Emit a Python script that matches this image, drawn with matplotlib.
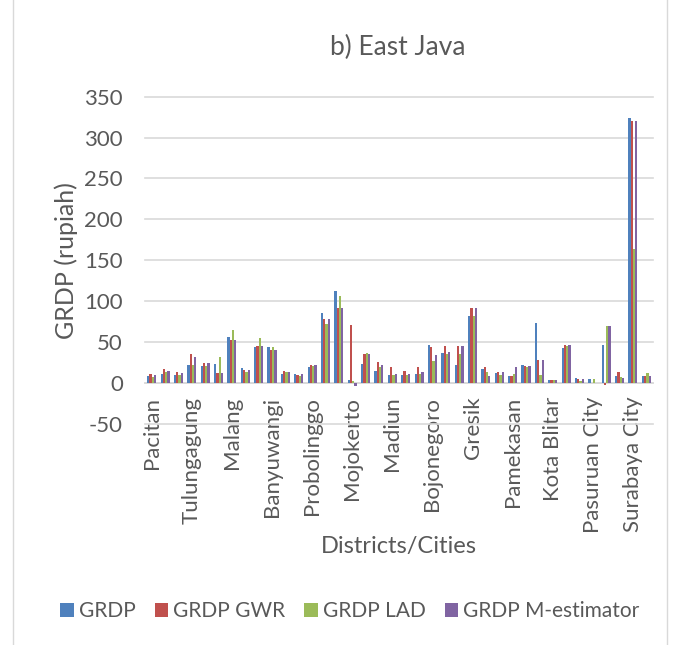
import numpy as np
import matplotlib
matplotlib.use("Agg")
import matplotlib.pyplot as plt
from matplotlib.patches import Rectangle

districts = ["Pacitan", "Ponorogo", "Trenggalek", "Tulungagung", "Blitar", "Kediri",
             "Malang", "Lumajang", "Jember", "Banyuwangi", "Bondowoso", "Situbondo",
             "Probolinggo", "Pasuruan", "Sidoarjo", "Mojokerto", "Jombang", "Nganjuk",
             "Madiun", "Magetan", "Ngawi", "Bojonegoro", "Tuban", "Lamongan", "Gresik",
             "Bangkalan", "Sampang", "Pamekasan", "Sumenep", "Kota Kediri", "Kota Blitar",
             "Kota Malang", "Kota Probolinggo", "Pasuruan City", "Kota Mojokerto",
             "Kota Madiun", "Surabaya City", "Kota Batu"]

grdp = [8.3, 10.7, 9.5, 21.9, 20.7, 23.5, 55.4, 17.8, 44.2, 44.2, 10.7, 10.7, 19.0,
        85.0, 112.5, 3.3, 22.7, 14.5, 9.5, 9.5, 10.3, 46.5, 36.8, 21.7, 81.5, 16.5,
        11.6, 8.7, 21.5, 73.3, 2.9, 42.1, 5.6, 4.3, 46.5, 7.9, 324.3, 8.2]
grdp_gwr = [10.7, 17.0, 13.2, 35.5, 24.4, 12.4, 52.9, 15.7, 45.5, 40.5, 14.9, 9.9, 21.9,
            77.7, 90.9, 70.2, 35.1, 24.8, 19.0, 14.0, 19.0, 43.4, 44.6, 44.6, 90.9, 19.8,
            13.2, 8.7, 21.0, 28.0, 2.9, 46.7, 4.3, 0.2, -3.0, 13.2, 320.3, 8.2]
grdp_lad = [6.6, 13.2, 9.5, 21.9, 20.7, 31.0, 64.5, 13.6, 54.5, 44.2, 12.8, 8.3, 20.7,
            71.5, 105.8, 2.0, 36.4, 19.8, 9.5, 9.5, 10.7, 27.0, 35.4, 35.4, 81.5, 13.0,
            9.9, 10.7, 19.8, 9.5, 2.9, 44.6, 2.2, 4.3, 69.0, 7.4, 163.6, 11.4]
grdp_mest = [9.5, 14.0, 11.6, 31.2, 24.4, 12.4, 52.9, 15.7, 45.5, 40.5, 12.8, 10.3, 21.9,
             77.7, 90.9, -4.0, 35.1, 21.9, 11.2, 10.5, 13.0, 34.2, 37.8, 44.6, 90.9, 8.6,
             13.2, 19.4, 21.0, 28.0, 3.5, 46.7, 4.3, 0.2, 70.0, 5.4, 320.3, 8.2]

series_names = ["GRDP", "GRDP GWR", "GRDP LAD", "GRDP M-estimator"]
colors = ["#4f81bd", "#c0504d", "#9bbb59", "#8064a2"]

plt.rcParams["font.family"] = ["Lato", "DejaVu Sans"]
plt.rcParams["axes.unicode_minus"] = False
text_color = "#595959"
grid_color = "#d9d9d9"

W, H = 689, 645
fig = plt.figure(figsize=(W / 100, H / 100), dpi=100)
ax = fig.add_axes([145 / W, 1 - 423.6 / H, 508 / W, (423.6 - 96.7) / H])

x = np.arange(len(districts))
w = 0.17
for k, vals in enumerate([grdp, grdp_gwr, grdp_lad, grdp_mest]):
    ax.bar(x + (k - 1.5) * w, vals, w, color=colors[k], label=series_names[k], zorder=3)

ax.set_xlim(-0.5, len(districts) - 0.5)
ax.set_ylim(-50, 350)
ax.set_yticks(np.arange(-50, 351, 50))
ax.yaxis.grid(True, color=grid_color, lw=1.2)
for gl in ax.get_ygridlines():
    gl.set_clip_on(False)
ax.set_axisbelow(True)
for s in ["top", "right", "left"]:
    ax.spines[s].set_visible(False)
ax.spines["bottom"].set_position(("data", 0))
ax.spines["bottom"].set_color(grid_color)
ax.spines["bottom"].set_linewidth(1.2)

# every third district gets a label
ax.set_xticks(x[::3])
ax.set_xticklabels(districts[::3], rotation=90)
ax.tick_params(axis="x", length=0, pad=10, labelsize=16, labelcolor=text_color)
ax.tick_params(axis="y", length=0, pad=16, labelsize=16, labelcolor=text_color)

fig.text(398 / W, 1 - 47 / H, "b) East Java", ha="center", va="center",
         fontsize=19, color=text_color)
fig.text(66 / W, 1 - 261 / H, "GRDP (rupiah)", ha="center", va="center",
         rotation=90, fontsize=18, color=text_color)
fig.text(399 / W, 1 - 546 / H, "Districts/Cities", ha="center", va="center",
         fontsize=17, color=text_color)

fig.legend(loc="center", bbox_to_anchor=(350 / W, 1 - 611 / H), ncol=4, frameon=False,
           fontsize=15, labelcolor=text_color, handlelength=0.65, handleheight=0.65,
           handletextpad=0.25, columnspacing=0.9)

# chart frame
fig.add_artist(Rectangle((13 / W, -0.01), (667 - 13) / W, 1.02, fill=False,
                         ec=grid_color, lw=1, transform=fig.transFigure))

fig.savefig("out.png", dpi=100)
